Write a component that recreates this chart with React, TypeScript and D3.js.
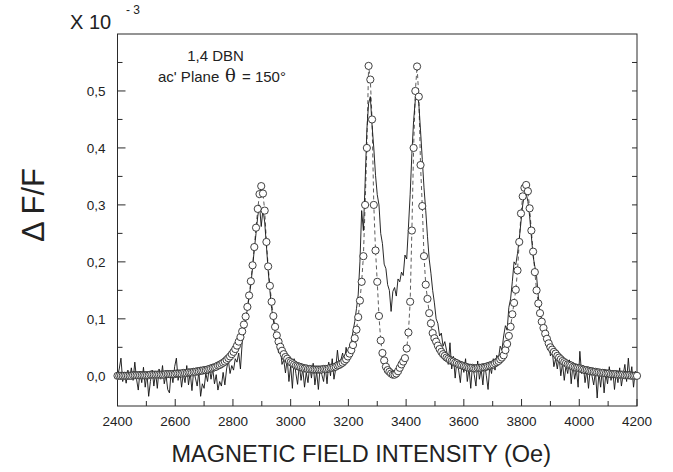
import React from 'react';
import * as d3 from 'd3';

const width = 673;
const height = 472;
const margin = { top: 34, right: 36, bottom: 66, left: 117.5 };

// scan grid: first field and spacing (Oe)
const fieldStart = 2400;
const fieldStep = 6;

// fitted curve (open circles), units of 10^-3, one value per grid step
const fitValues = [
  0.000, 0.000, 0.000, 0.000, 0.000, 0.000, 0.000, 0.000, 0.000, 0.001, // 2400
  0.001, 0.001, 0.001, 0.001, 0.001, 0.001, 0.001, 0.001, 0.001, 0.002, // 2460
  0.002, 0.002, 0.002, 0.002, 0.002, 0.002, 0.002, 0.002, 0.003, 0.003, // 2520
  0.003, 0.003, 0.003, 0.003, 0.004, 0.004, 0.004, 0.004, 0.005, 0.005, // 2580
  0.005, 0.006, 0.006, 0.006, 0.007, 0.007, 0.008, 0.008, 0.009, 0.009, // 2640
  0.010, 0.010, 0.011, 0.012, 0.013, 0.014, 0.015, 0.016, 0.018, 0.019, // 2700
  0.021, 0.023, 0.025, 0.028, 0.031, 0.034, 0.038, 0.042, 0.047, 0.053, // 2760
  0.060, 0.068, 0.078, 0.090, 0.104, 0.121, 0.141, 0.166, 0.194, 0.226, // 2820
  0.260, 0.293, 0.319, 0.333, 0.320, 0.290, 0.235, 0.192, 0.158, 0.130, // 2880
  0.105, 0.086, 0.071, 0.060, 0.051, 0.044, 0.038, 0.033, 0.030, 0.026, // 2940
  0.024, 0.022, 0.020, 0.018, 0.017, 0.016, 0.015, 0.014, 0.013, 0.013, // 3000
  0.012, 0.012, 0.012, 0.011, 0.011, 0.011, 0.011, 0.011, 0.011, 0.012, // 3060
  0.012, 0.012, 0.013, 0.014, 0.014, 0.015, 0.016, 0.018, 0.019, 0.021, // 3120
  0.023, 0.026, 0.029, 0.034, 0.039, 0.045, 0.054, 0.066, 0.081, 0.103, // 3180
  0.132, 0.165, 0.210, 0.300, 0.400, 0.544, 0.520, 0.450, 0.300, 0.220, // 3240
  0.165, 0.105, 0.062, 0.040, 0.027, 0.016, 0.010, 0.007, 0.004, 0.002, // 3300
  0.002, 0.004, 0.008, 0.014, 0.020, 0.025, 0.031, 0.048, 0.076, 0.130, // 3360
  0.255, 0.400, 0.500, 0.543, 0.490, 0.370, 0.298, 0.210, 0.160, 0.135, // 3420
  0.110, 0.092, 0.075, 0.066, 0.060, 0.053, 0.047, 0.042, 0.038, 0.035, // 3480
  0.032, 0.030, 0.028, 0.026, 0.025, 0.023, 0.022, 0.020, 0.019, 0.018, // 3540
  0.017, 0.016, 0.015, 0.014, 0.014, 0.014, 0.013, 0.013, 0.014, 0.014, // 3600
  0.014, 0.015, 0.015, 0.016, 0.017, 0.018, 0.019, 0.020, 0.022, 0.024, // 3660
  0.026, 0.029, 0.032, 0.036, 0.045, 0.056, 0.070, 0.086, 0.108, 0.128, // 3720
  0.151, 0.185, 0.235, 0.285, 0.315, 0.330, 0.335, 0.324, 0.294, 0.255, // 3780
  0.218, 0.182, 0.150, 0.127, 0.110, 0.095, 0.084, 0.074, 0.065, 0.057, // 3840
  0.050, 0.046, 0.042, 0.039, 0.035, 0.032, 0.029, 0.026, 0.024, 0.022, // 3900
  0.020, 0.019, 0.018, 0.016, 0.015, 0.014, 0.014, 0.013, 0.012, 0.011, // 3960
  0.010, 0.010, 0.009, 0.008, 0.008, 0.007, 0.007, 0.006, 0.006, 0.005, // 4020
  0.005, 0.005, 0.004, 0.004, 0.004, 0.003, 0.003, 0.003, 0.003, 0.002, // 4080
  0.002, 0.002, 0.002, 0.001, 0.001, 0.001, 0.001, 0.000, 0.000, 0.000, // 4140
  0.000, // 4200
];

// measured signal (solid line), same grid
const measuredValues = [
  0.000, 0.012, 0.031, -0.010, 0.006, -0.013, 0.010, -0.004, 0.014, -0.008, // 2400
  0.024, -0.006, -0.025, 0.008, -0.012, 0.015, -0.020, 0.004, -0.036, -0.010, // 2460
  0.010, -0.018, 0.006, -0.022, 0.012, -0.006, 0.018, -0.014, 0.002, -0.024, // 2520
  -0.030, 0.008, -0.012, 0.016, 0.031, -0.008, 0.010, -0.020, 0.004, -0.012, // 2580
  0.018, -0.016, 0.006, -0.026, 0.010, -0.004, -0.018, 0.008, -0.036, -0.014, // 2640
  -0.022, 0.004, -0.010, 0.016, -0.006, 0.012, -0.014, 0.002, -0.025, -0.010, // 2700
  -0.018, 0.006, -0.016, 0.012, 0.028, 0.004, 0.018, 0.010, 0.030, 0.024, // 2760
  0.040, 0.012, 0.058, 0.075, 0.095, 0.118, 0.138, 0.160, 0.190, 0.222, // 2820
  0.250, 0.280, 0.300, 0.262, 0.292, 0.270, 0.228, 0.185, 0.150, 0.118, // 2880
  0.098, 0.075, 0.062, 0.040, 0.052, 0.020, 0.028, 0.005, 0.030, -0.010, // 2940
  0.018, -0.022, 0.030, 0.004, -0.015, 0.020, -0.008, 0.012, -0.020, 0.006, // 3000
  -0.012, 0.018, -0.004, 0.022, -0.016, 0.008, -0.024, 0.014, 0.002, -0.010, // 3060
  0.016, -0.014, 0.024, 0.000, 0.030, -0.006, 0.012, 0.045, 0.018, 0.028, // 3120
  0.040, 0.022, 0.050, 0.034, 0.052, 0.060, 0.078, 0.095, 0.118, 0.142, // 3180
  0.200, 0.290, 0.255, 0.340, 0.432, 0.478, 0.490, 0.440, 0.400, 0.352, // 3240
  0.318, 0.300, 0.250, 0.232, 0.196, 0.188, 0.160, 0.150, 0.113, 0.148, // 3300
  0.155, 0.140, 0.170, 0.165, 0.182, 0.176, 0.212, 0.205, 0.260, 0.318, // 3360
  0.390, 0.448, 0.485, 0.500, 0.478, 0.430, 0.380, 0.330, 0.290, 0.245, // 3420
  0.205, 0.180, 0.150, 0.128, 0.100, 0.092, 0.070, 0.075, 0.052, 0.060, // 3480
  0.045, 0.020, 0.058, 0.012, 0.034, -0.004, 0.028, 0.010, -0.012, 0.024, // 3540
  0.006, 0.030, -0.010, 0.014, -0.022, 0.020, 0.002, -0.018, 0.026, -0.006, // 3600
  0.012, -0.016, 0.022, 0.000, -0.024, 0.018, 0.004, 0.030, 0.010, 0.036, // 3660
  0.030, 0.052, 0.045, 0.070, 0.088, 0.080, 0.120, 0.135, 0.165, 0.200, // 3720
  0.195, 0.215, 0.240, 0.270, 0.300, 0.318, 0.320, 0.306, 0.280, 0.245, // 3780
  0.210, 0.192, 0.175, 0.140, 0.110, 0.100, 0.080, 0.072, 0.050, 0.058, // 3840
  0.035, 0.045, 0.016, 0.030, 0.012, 0.035, 0.000, 0.022, -0.008, 0.018, // 3900
  0.004, 0.028, -0.014, 0.020, -0.006, 0.012, -0.020, 0.043, 0.004, 0.018, // 3960
  -0.012, 0.010, -0.022, 0.014, 0.000, -0.016, 0.008, -0.039, 0.006, -0.020, // 4020
  0.012, -0.030, 0.004, -0.014, 0.016, -0.008, 0.010, -0.024, 0.006, -0.012, // 4080
  0.014, -0.018, 0.002, 0.020, -0.010, 0.031, -0.006, 0.016, -0.020, 0.008, // 4140
  0.000, // 4200
];

const xTicks = [2400, 2600, 2800, 3000, 3200, 3400, 3600, 3800, 4000, 4200];
const yTicks = [0, 0.1, 0.2, 0.3, 0.4, 0.5];
const yTickLabels = ['0,0', '0,1', '0,2', '0,3', '0,4', '0,5'];

const font = '"Liberation Sans", Arial, sans-serif';
const axisColor = '#2a2a2a';

export default function App() {
  const x = d3.scaleLinear().domain([2400, 4200]).range([margin.left, width - margin.right]);
  const y = d3.scaleLinear().domain([-0.053, 0.6]).range([height - margin.bottom, margin.top]);

  const fieldAt = (i: number) => fieldStart + i * fieldStep;
  const line = d3.line<number>().x((d, i) => x(fieldAt(i))).y(d => y(d));

  const x0 = x.range()[0];
  const x1 = x.range()[1];
  const yb = y.range()[0];
  const yt = y.range()[1];

  const xMinor = d3.range(2400, 4201, 100);
  const yMinor = d3.range(0, 0.6, 0.05);

  return (
    <div style={{ position: 'absolute', left: 0, top: 0 }}>
      <svg width={width} height={height} style={{ display: 'block', background: '#fff' }}>
        {/* frame */}
        <rect x={x0} y={yt} width={x1 - x0} height={yb - yt} fill="none" stroke={axisColor} strokeWidth={1} />

        {/* bottom ticks, inward */}
        {xMinor.map(v => {
          const major = v % 200 === 0;
          return <line key={'xt' + v} x1={x(v)} x2={x(v)} y1={yb} y2={yb - (major ? 7 : 5)} stroke={axisColor} />;
        })}
        {xTicks.map(v => (
          <text key={'xl' + v} x={x(v)} y={yb + 20} textAnchor="middle" fontFamily={font} fontSize={13.5} fill="#222">{v}</text>
        ))}

        {/* left and right ticks */}
        {yMinor.map((v, i) => {
          const major = i % 2 === 0;
          return (
            <g key={'yt' + i}>
              <line x1={x0} x2={x0 + (major ? 8 : 5)} y1={y(v)} y2={y(v)} stroke={axisColor} />
              <line x1={x1} x2={x1 - 5} y1={y(v)} y2={y(v)} stroke={axisColor} />
            </g>
          );
        })}
        {yTicks.map((v, i) => (
          <text key={'yl' + v} x={x0 - 12} y={y(v) + 5} textAnchor="end" fontFamily={font} fontSize={13.5} fill="#222">{yTickLabels[i]}</text>
        ))}

        {/* scale factor */}
        <text x={70} y={29} fontFamily={font} fontSize={20} fill="#222">X 10</text>
        <text x={126} y={14} fontFamily={font} fontSize={12} fill="#222">- 3</text>

        {/* annotation */}
        <text x={215.5} y={61} textAnchor="middle" fontFamily={font} fontSize={15} fill="#222">1,4 DBN</text>
        <text x={158} y={82} fontFamily={font} fontSize={15} fill="#222">
          ac' Plane
          <tspan x={225} fontFamily='"DejaVu Serif", serif' fontSize={18}>θ</tspan>
          <tspan x={242}>= 150°</tspan>
        </text>

        {/* axis titles */}
        <text transform={`translate(44, 205) rotate(-90)`} textAnchor="middle" fontFamily={font} fontSize={31} fill="#222">Δ F/F</text>
        <text x={(x0 + x1) / 2 - 16} y={462} textAnchor="middle" fontFamily={font} fontSize={23.5} fill="#222">MAGNETIC FIELD INTENSITY (Oe)</text>

        {/* fit: dashed guide */}
        <path d={line(fitValues) || ''} fill="none" stroke="#333" strokeWidth={0.8} strokeDasharray="4,3" />

        {/* measured signal */}
        <path d={line(measuredValues) || ''} fill="none" stroke="#111" strokeWidth={0.9} strokeLinejoin="round" />

        {/* fit: open circles */}
        {fitValues.map((v, i) => (
          <circle key={'c' + i} cx={x(fieldAt(i))} cy={y(v)} r={3.6} fill="#fff" stroke="#2a2a2a" strokeWidth={0.9} />
        ))}
      </svg>
    </div>
  );
}
